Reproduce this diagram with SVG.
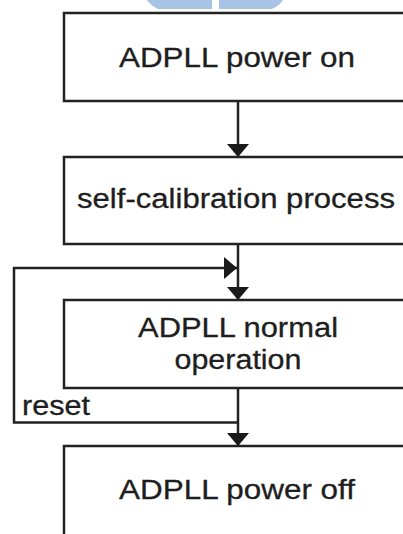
<svg xmlns="http://www.w3.org/2000/svg" width="403" height="534" viewBox="0 0 403 534">
  <style>
    .box { fill: #ffffff; stroke: #222222; stroke-width: 2.5; }
    .label { font-family: "Liberation Sans", Arial, sans-serif; font-size: 27px; fill: #1e1e1e; stroke: #1e1e1e; stroke-width: 0.3; text-anchor: middle; }
    .wire { fill: none; stroke: #222222; stroke-width: 2.5; }
  </style>
  <defs>
    <marker id="arrow" viewBox="0 0 13 22" refX="13" refY="11" markerWidth="13" markerHeight="22" markerUnits="userSpaceOnUse" orient="auto">
      <path d="M0,0 L13,11 L0,22 Z" fill="#1a1a1a"/>
    </marker>
  </defs>

  <rect width="403" height="534" fill="#ffffff"/>

  <!-- faint blue emblem at the top edge -->
  <g id="emblem" fill="#a7c3e5">
    <path d="M147,0 L212,0 L212,9 L158,9 Q150,5 147,0 Z"/>
    <path d="M219,0 L283,0 Q280,5 272,9 L219,9 Z"/>
  </g>

  <g id="power-on">
    <rect class="box" x="64" y="13" width="360" height="88"/>
    <text class="label" x="237" y="67" textLength="236" lengthAdjust="spacingAndGlyphs">ADPLL power on</text>
  </g>

  <g id="self-calibration">
    <rect class="box" x="64" y="157" width="360" height="87"/>
    <text class="label" x="236" y="208" textLength="318" lengthAdjust="spacingAndGlyphs">self-calibration process</text>
  </g>

  <g id="normal-operation">
    <rect class="box" x="64" y="300" width="360" height="88"/>
    <text class="label" x="238" y="337" textLength="200" lengthAdjust="spacingAndGlyphs">ADPLL normal</text>
    <text class="label" x="238" y="369" textLength="127" lengthAdjust="spacingAndGlyphs">operation</text>
  </g>

  <g id="power-off">
    <rect class="box" x="64" y="446" width="360" height="100"/>
    <text class="label" x="237" y="499" textLength="236" lengthAdjust="spacingAndGlyphs">ADPLL power off</text>
  </g>

  <g id="connectors">
    <path class="wire" d="M238,101 L238,157" marker-end="url(#arrow)"/>
    <path class="wire" d="M238,244 L238,300" marker-end="url(#arrow)"/>
    <path class="wire" d="M238,388 L238,446" marker-end="url(#arrow)"/>
    <path class="wire" d="M238,422.5 L14,422.5 L14,268 L237,268" marker-end="url(#arrow)"/>
    <text class="label" x="56" y="415" textLength="68" lengthAdjust="spacingAndGlyphs">reset</text>
  </g>
</svg>
